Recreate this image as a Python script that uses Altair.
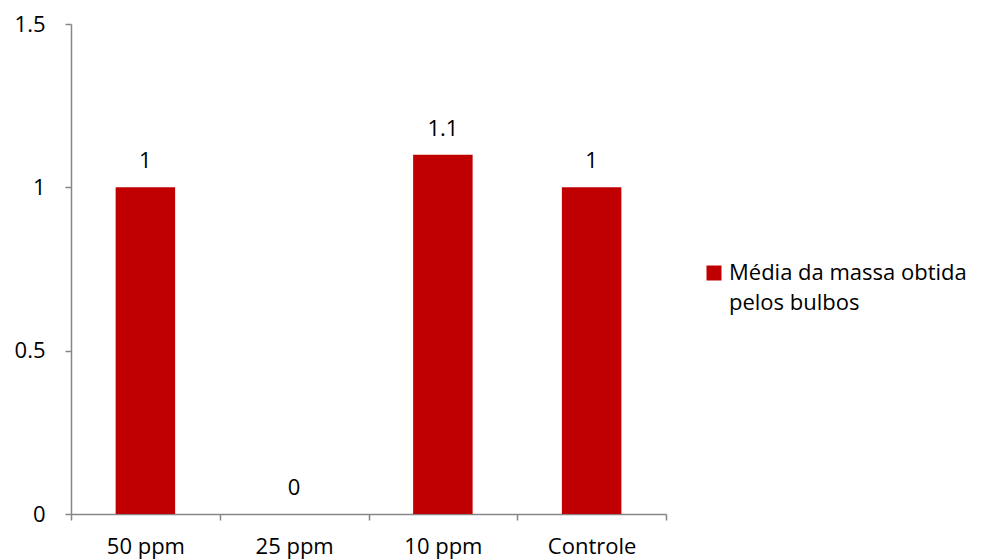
import altair as alt
import pandas as pd

categories = ["50 ppm", "25 ppm", "10 ppm", "Controle"]
values = [1.0, 0.0, 1.1, 1.0]
labels = ["1", "0", "1.1", "1"]
series = "Média da massa obtida|pelos bulbos"
y_ticks = [0, 0.5, 1, 1.5]

df = pd.DataFrame({"cat": categories, "val": values, "lab": labels, "serie": [series] * 4})

FONT = "Open Sans"
AXIS_COLOR = "#868686"

x = alt.X("cat:N", sort=categories, title=None,
          scale=alt.Scale(paddingInner=0, paddingOuter=0),
          axis=alt.Axis(labelAngle=0, tickBand="extent", domainColor=AXIS_COLOR,
                        tickColor=AXIS_COLOR, tickSize=6, labelPadding=16,
                        labelFont=FONT, labelFontSize=22, labelColor="#000000",
                        domainWidth=1.5, tickWidth=1.5))

y = alt.Y("val:Q", title=None,
          scale=alt.Scale(domain=[0, 1.5], nice=False),
          axis=alt.Axis(values=y_ticks, format="~g", grid=False, domainColor=AXIS_COLOR,
                        tickColor=AXIS_COLOR, tickSize=6, labelPadding=20,
                        labelFont=FONT, labelFontSize=22, labelColor="#000000",
                        domainWidth=1.5, tickWidth=1.5))

bars = alt.Chart(df).mark_bar(color="#C00000", width=alt.RelativeBandSize(0.4)).encode(
    x=x,
    y=y,
    color=alt.Color("serie:N", scale=alt.Scale(range=["#C00000"]),
                    legend=alt.Legend(title=None, orient="none", legendX=632, legendY=238,
                                      symbolType="square", symbolSize=225, symbolStrokeWidth=0,
                                      labelFont=FONT, labelFontSize=22, labelColor="#000000",
                                      labelLimit=400, labelOffset=4,
                                      labelExpr="split(datum.label, '|')")),
)

text = alt.Chart(df).mark_text(font=FONT, fontSize=22, baseline="alphabetic", dy=-19,
                               color="#000000").encode(
    x=x,
    y=y,
    text="lab:N",
)

chart = (bars + text).properties(
    width=595, height=490,
    background="white",
    autosize=alt.AutoSizeParams(type="none"),
    padding={"left": 71, "top": 24, "right": 315, "bottom": 46},
).configure(style={"guide-label": {"lineHeight": 30}}).configure_view(stroke=None)

chart.save("out.html", embed_options={"renderer": "svg", "actions": False})
